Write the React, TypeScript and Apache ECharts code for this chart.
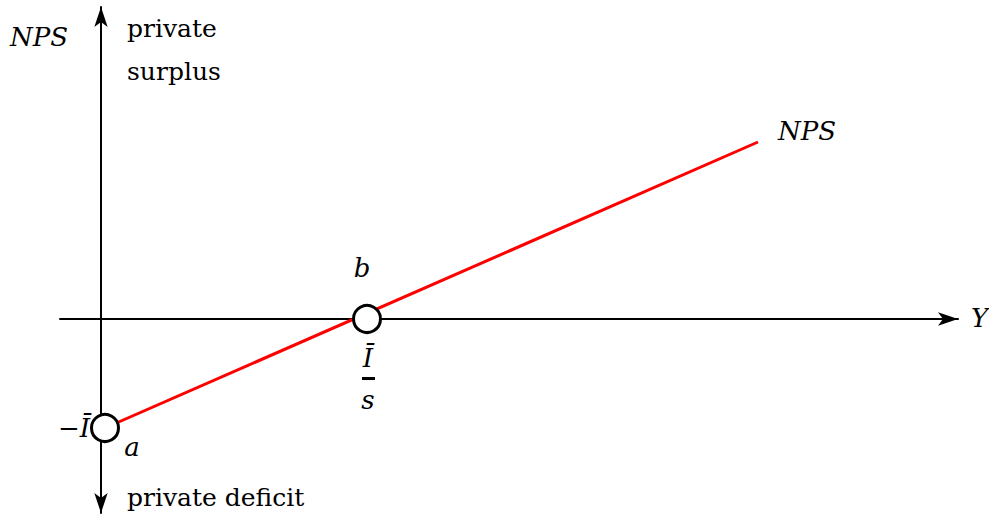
import React, { useEffect, useRef } from "react";
import * as echarts from "echarts";

// Net private surplus schedule: NPS = sY − Ī, in plotting units
const lineX = [4, 657];
const lineY = [-109, 177];
// a: intercept (0, −Ī), b: break-even income Ī/s
const pointNames = ["a", "b"];
const pointX = [4, 266];
const pointY = [-109, 0];

const xRange = [-41, 857];
const yRange = [-194, 312];

const FONT = "DejaVu Serif";

export default function App() {
  const ref = useRef<HTMLDivElement>(null);

  useEffect(() => {
    if (!ref.current) return;
    const chart = echarts.init(ref.current, undefined, { renderer: "svg" });

    const txt = (
      text: string,
      x: number,
      y: number,
      opts: { italic?: boolean; align?: string; size?: number } = {}
    ) => ({
      type: "text",
      x,
      y,
      style: {
        text,
        fill: "#000",
        font: `${opts.italic ? "italic " : ""}${opts.size ?? (opts.italic ? 26 : 25)}px "${FONT}"`,
        textAlign: opts.align ?? "left",
        textVerticalAlign: "middle",
      },
      z: 10,
    });

    chart.setOption({
      animation: false,
      backgroundColor: "#fff",
      grid: { left: 60, right: 31, top: 7, bottom: 2 },
      xAxis: {
        type: "value",
        min: xRange[0],
        max: xRange[1],
        axisLine: {
          show: true,
          onZero: true,
          lineStyle: { color: "#000", width: 2 },
          symbol: ["none", "arrow"],
          symbolSize: [10, 20],
        },
        axisTick: { show: false },
        axisLabel: { show: false },
        splitLine: { show: false },
      },
      yAxis: {
        type: "value",
        min: yRange[0],
        max: yRange[1],
        axisLine: {
          show: true,
          onZero: true,
          lineStyle: { color: "#000", width: 2 },
          symbol: ["arrow", "arrow"],
          symbolSize: [10, 20],
        },
        axisTick: { show: false },
        axisLabel: { show: false },
        splitLine: { show: false },
      },
      series: [
        {
          type: "line",
          data: lineX.map((x, i) => [x, lineY[i]]),
          showSymbol: false,
          lineStyle: { color: "#ff0000", width: 3 },
          z: 2,
        },
        {
          type: "scatter",
          data: pointX.map((x, i) => ({ name: pointNames[i], value: [x, pointY[i]] })),
          symbol: "circle",
          symbolSize: 27,
          itemStyle: { color: "#fff", borderColor: "#000", borderWidth: 3, opacity: 1 },
          z: 3,
        },
      ],
      graphic: [
        txt("NPS", 10, 37, { italic: true }),
        txt("private", 127, 28),
        txt("surplus", 127, 71),
        txt("NPS", 778, 131, { italic: true }),
        txt("Y", 971, 318, { italic: true }),
        txt("b", 362, 268, { italic: true, align: "center" }),
        txt("Ī", 368, 358, { italic: true, align: "center" }),
        {
          type: "rect",
          shape: { x: 362, y: 377, width: 13, height: 3 },
          style: { fill: "#000" },
        },
        txt("s", 368, 400, { italic: true, align: "center" }),
        txt("−Ī", 90, 428, { italic: true, align: "right" }),
        txt("a", 132, 447, { italic: true, align: "center" }),
        txt("private deficit", 127, 497),
      ],
    });

    return () => chart.dispose();
  }, []);

  return (
    <div
      ref={ref}
      style={{ position: "fixed", left: 0, top: 0, width: 989, height: 515, background: "#fff" }}
    />
  );
}
